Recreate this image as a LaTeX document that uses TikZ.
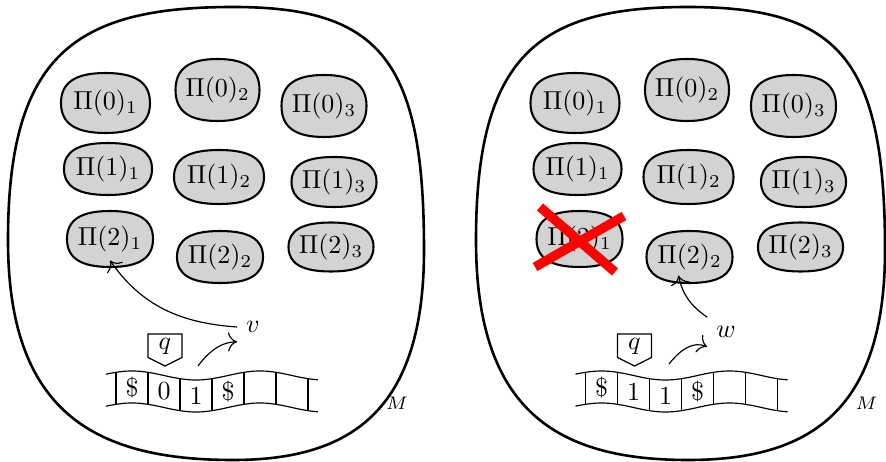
\documentclass[tikz,border=0pt]{standalone}
\usetikzlibrary{calc,arrows.meta}
\definecolor{blobgray}{RGB}{211,211,211}
\newcommand\pinode[6]{%
  \path[blobshape] (#2+#4/2,#3) .. controls (#2+#4/2,#3-0.68*#5/2) and (#2+0.68*#4/2,#3-#5/2) .. (#2,#3-#5/2)
    .. controls (#2-0.68*#4/2,#3-#5/2) and (#2-#4/2,#3-0.68*#5/2) .. (#2-#4/2,#3)
    .. controls (#2-#4/2,#3+0.68*#5/2) and (#2-0.68*#4/2,#3+#5/2) .. (#2,#3+#5/2)
    .. controls (#2+0.68*#4/2,#3+#5/2) and (#2+#4/2,#3+0.68*#5/2) .. cycle;
  \node[pinode,minimum width=#4*0.385pt,minimum height=#5*0.385pt] (#1) at (#2,#3) {$\Pi(#6$};}
\newcommand\wavey[2]{{#2-4.5*cos(2.8125*(#1-132))}}
\newcommand\tapedraw[5]{%
  \draw[tapeline] plot[domain=106:318,samples=90,variable=\t] (\t,\wavey{\t}{375.5});
  \draw[tapeline] plot[domain=106:318,samples=90,variable=\t] (\t,\wavey{\t}{407.5});
  \foreach \x in {116,148,...,308} \draw[tapeline] (\x,\wavey{\x}{375.5}) -- (\x,\wavey{\x}{407.5});
  \node (#1c1) at (132,\wavey{132}{391.5}) {#2};
  \node (#1c2) at (164,\wavey{164}{391.5}) {#3};
  \node (#1c3) at (196,\wavey{196}{391.5}) {#4};
  \node (#1c4) at (228,\wavey{228}{391.5}) {#5};
  \draw[tapeline] (148,334) -- (182,334) -- (182,357.5) -- (165,366) -- (148,357.5) -- cycle;
  \node (#1q) at (165,346) {$q$};
  \node[font=\scriptsize] (#1M) at (397,403) {$M$};
}
\newcommand\blobs[1]{%
  \pinode{#1p01}{105.5}{103}{89}{60}{0)_1}
  \pinode{#1p02}{217.5}{90}{84}{62}{0)_2}
  \pinode{#1p03}{324}{106}{85}{62}{0)_3}
  \pinode{#1p11}{108}{169}{88}{52}{1)_1}
  \pinode{#1p12}{219}{177}{90}{54}{1)_2}
  \pinode{#1p13}{334}{182}{85}{50}{1)_3}
  \pinode{#1p21}{110}{239}{86}{56}{2)_1}
  \pinode{#1p22}{220}{257}{86}{52}{2)_2}
  \pinode{#1p23}{331}{247}{85}{49}{2)_3}
}
\begin{document}
\begin{tikzpicture}[x=0.385pt,y=-0.385pt,
  blobshape/.style={draw,line width=0.8pt,fill=blobgray},
  pinode/.style={inner sep=0pt},
  tapeline/.style={line width=0.45pt},
  outline/.style={line width=1pt},
  conn/.style={-{To[scale=1.35]},line width=0.45pt},
  cross/.style={red,line width=3.6pt}]
\useasboundingbox (0,0) rectangle (886,462);
% left machine
\draw[outline] (233,7) .. controls (380,7) and (424,60) .. (424,250)
  .. controls (424,410) and (352,460) .. (233,460)
  .. controls (92,460) and (8,410) .. (8,240)
  .. controls (8,55) and (75,7) .. (233,7);
\blobs{l}
\tapedraw{l}{\$}{0}{1}{\$}
\node (v) at (253,327) {$v$};
\coordinate (lstart) at (198,366);
\draw[conn] (lstart) .. controls (210,350) and (222,342) .. (v.south west);
\draw[conn] (v.west) to[out=176,in=-55] ($(lp21.south)+(0,-7)$);
% right machine
\draw[outline] (688,7) .. controls (840,7) and (885,60) .. (885,250)
  .. controls (885,410) and (811,460) .. (688,460)
  .. controls (556,460) and (476,410) .. (476,240)
  .. controls (476,55) and (539,7) .. (688,7);
\begin{scope}[shift={(469.5,0)}]
\blobs{r}
\tapedraw{r}{\$}{1}{1}{\$}
\end{scope}
\node (w) at (726,332) {$w$};
\coordinate (rstart) at (669,364);
\draw[conn] (rstart) .. controls (681,349) and (693,341) .. (w.south west);
\draw[conn] (w.north west) to[out=145,in=-78] ($(rp22.south)+(-11,-8)$);
\draw[cross] (540,207) -- (615,272);
\draw[cross] (624,216) -- (535,267);
\end{tikzpicture}
\end{document}
